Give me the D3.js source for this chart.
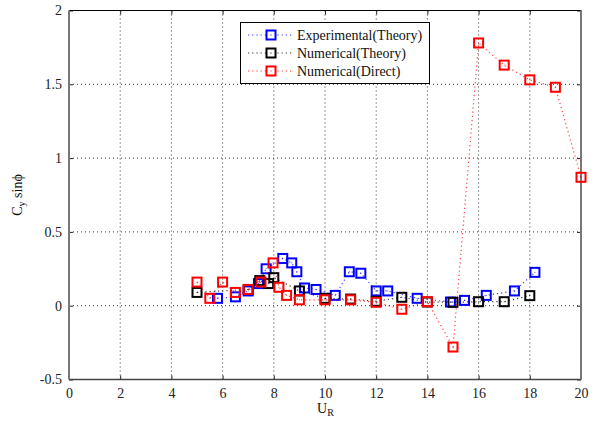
<!DOCTYPE html>
<html><head><meta charset="utf-8">
<script src="https://cdn.jsdelivr.net/npm/d3@7"></script>
<style>body{margin:0;background:#fff}svg{display:block}svg text{font-family:'Liberation Serif','DejaVu Serif',serif !important}</style>
</head><body>
<svg id="c" width="595" height="421"></svg>
<script>
const xTicks = [0,2,4,6,8,10,12,14,16,18,20];
const yTicks = [-0.5,0,0.5,1,1.5,2];
const seriesNames = ["Experimental(Theory)","Numerical(Theory)","Numerical(Direct)"];
const seriesColors = ["#0000ff","#000000","#ff0000"];
const expTheory = [[5.8,0.05],[6.5,0.06],[7.0,0.10],[7.4,0.15],[7.7,0.25],[8.35,0.32],[8.7,0.29],[8.9,0.23],[9.2,0.12],[9.65,0.11],[10.4,0.07],[10.95,0.23],[11.4,0.22],[12.0,0.10],[12.45,0.10],[13.6,0.05],[14.9,0.025],[15.45,0.036],[16.3,0.07],[17.4,0.10],[18.2,0.226]];
const numTheory = [[5,0.09],[7,0.11],[7.45,0.17],[7.8,0.15],[8.0,0.19],[9,0.10],[10,0.05],[11,0.045],[12,0.03],[13,0.057],[14,0.025],[15,0.023],[16,0.027],[17,0.027],[18,0.068]];
const numDirect = [[5,0.16],[5.5,0.05],[6,0.16],[6.5,0.09],[7,0.11],[7.5,0.16],[7.97,0.29],[8.2,0.125],[8.5,0.07],[9,0.04],[10,0.04],[11,0.04],[12,0.023],[13,-0.024],[14,0.027],[15,-0.28],[16,1.78],[17,1.63],[18,1.53],[19,1.48],[20,0.87]];
const allSeries = [expTheory, numTheory, numDirect];

const FONT = "'Liberation Serif','DejaVu Serif',serif";
const svg = d3.select("#c");
const L=69,R=581,T=10.5,B=379.5;
const x = d3.scaleLinear().domain([0,20]).range([L,R]);
const y = d3.scaleLinear().domain([-0.5,2]).range([B,T]);

// grid
const g = svg.append("g");
g.selectAll(".gx").data(xTicks.slice(1,-1)).enter().append("line")
 .attr("x1",d=>x(d)).attr("x2",d=>x(d)).attr("y1",T).attr("y2",B)
 .attr("stroke","#333").attr("stroke-width",1).attr("stroke-dasharray","1,3");
g.selectAll(".gy").data(yTicks.slice(1,-1)).enter().append("line")
 .attr("y1",d=>y(d)).attr("y2",d=>y(d)).attr("x1",L).attr("x2",R)
 .attr("stroke","#333").attr("stroke-width",1).attr("stroke-dasharray","1,3");

// axes
const xAxis = d3.axisBottom(x).tickValues(xTicks).tickSize(-4).tickPadding(9).tickFormat(d3.format("d"));
const yAxis = d3.axisLeft(y).tickValues(yTicks).tickSize(-4).tickPadding(7).tickFormat(d=>String(d));
const ax = svg.append("g").attr("transform",`translate(0,${B})`).call(xAxis);
const ay = svg.append("g").attr("transform",`translate(${L},0)`).call(yAxis);
[ax,ay].forEach(a=>{a.attr("font-family",FONT).attr("font-size",14);a.select(".domain").remove();a.selectAll("text").attr("fill","#222");a.selectAll("line").attr("stroke","#222");});
const axTop = svg.append("g").attr("transform",`translate(0,${T})`).call(d3.axisTop(x).tickValues(xTicks).tickSize(-4).tickFormat(""));
const ayR = svg.append("g").attr("transform",`translate(${R},0)`).call(d3.axisRight(y).tickValues(yTicks).tickSize(-4).tickFormat(""));
[axTop,ayR].forEach(a=>{a.select(".domain").remove();a.selectAll("line").attr("stroke","#222");});

// frame
svg.append("line").attr("x1",L).attr("x2",R).attr("y1",T).attr("y2",T).attr("stroke","#000").attr("stroke-width",1);
svg.append("line").attr("x1",L).attr("x2",R).attr("y1",B).attr("y2",B).attr("stroke","#444").attr("stroke-width",1.5);
svg.append("line").attr("x1",L).attr("x2",L).attr("y1",T).attr("y2",B).attr("stroke","#777").attr("stroke-width",2);
svg.append("line").attr("x1",R).attr("x2",R).attr("y1",T).attr("y2",B).attr("stroke","#777").attr("stroke-width",2);

// series
const line = d3.line().x(d=>x(d[0])).y(d=>y(d[1]));
allSeries.forEach((s,i)=>{
  const c = seriesColors[i];
  svg.append("path").datum(s).attr("d",line).attr("fill","none")
    .attr("stroke",c).attr("stroke-width",1.2).attr("stroke-dasharray","1.2,3").attr("opacity",0.75);
  const gg = svg.append("g");
  gg.selectAll("rect").data(s).enter().append("rect")
    .attr("x",d=>x(d[0])-4.5).attr("y",d=>y(d[1])-4.5).attr("width",9).attr("height",9)
    .attr("fill","none").attr("stroke",c).attr("stroke-width",2);
  gg.selectAll("circle").data(s).enter().append("rect")
    .attr("x",d=>x(d[0])-0.5).attr("y",d=>y(d[1])-0.5).attr("width",1).attr("height",1).attr("fill",c).attr("opacity",0.7);
});

// legend
const lg = svg.append("g").attr("font-family",FONT);
lg.append("rect").attr("x",240.5).attr("y",22.5).attr("width",189).attr("height",61).attr("fill","#fff").attr("stroke","#000").attr("stroke-width",1);
seriesNames.forEach((n,i)=>{
  const yy = 35 + i*18;
  const c = seriesColors[i];
  lg.append("line").attr("x1",248).attr("x2",294).attr("y1",yy).attr("y2",yy).attr("stroke",c).attr("stroke-width",1.2).attr("stroke-dasharray","1.2,3").attr("opacity",0.8);
  lg.append("rect").attr("x",271-4.5).attr("y",yy-4.5).attr("width",9).attr("height",9).attr("fill","#fff").attr("stroke",c).attr("stroke-width",2);
  lg.append("rect").attr("x",270.5).attr("y",yy-0.5).attr("width",1).attr("height",1).attr("fill",c);
  lg.append("text").attr("x",297).attr("y",yy+4.5).attr("font-size",14).attr("fill","#111").text(n);
});

// axis labels
const xl = svg.append("text").attr("x",317).attr("y",413).attr("font-family",FONT).attr("font-size",14).attr("fill","#111");
xl.append("tspan").text("U");
xl.append("tspan").attr("font-size",10).attr("dy",3).text("R");
const yl = svg.append("text").attr("transform","translate(22,195) rotate(-90)").attr("text-anchor","middle").attr("font-family",FONT).attr("font-size",14).attr("fill","#111");
yl.append("tspan").text("C");
yl.append("tspan").attr("font-size",10).attr("dy",3).text("y");
yl.append("tspan").attr("dy",-3).text(" sinϕ");
</script>
</body></html>
